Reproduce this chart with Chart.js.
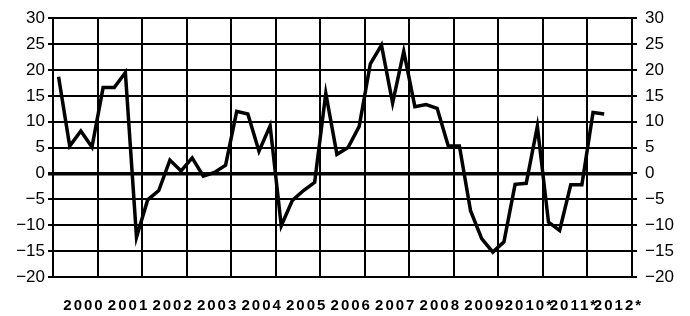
<!DOCTYPE html>
<html>
<head>
<meta charset="utf-8">
<title>Quarterly change, 2000-2012</title>
<script src="https://cdn.jsdelivr.net/npm/chart.js@4/dist/chart.umd.min.js"></script>
<style>
    html, body { margin: 0; padding: 0; background: #fff; }
    #wrap { width: 690px; height: 316px; }
</style>
</head>
<body>
<div id="wrap"><canvas id="growth-chart" width="690" height="316"></canvas></div>
<script>
// Year labels shown under the x axis (one per 4 quarters)
const yearLabels = [
    '2000', '2001', '2002', '2003', '2004', '2005', '2006',
    '2007', '2008', '2009', '2010*', '2011*', '2012*'
];

// Quarterly values, 2000 Q1 .. 2012 Q2
const quarterValues = [
    18.7, 5.3, 8.2, 5.1,        // 2000
    16.6, 16.6, 19.5, -12.3,    // 2001
    -5.1, -3.3, 2.6, 0.5,       // 2002
    3.0, -0.5, 0.2, 1.6,        // 2003
    12.0, 11.5, 4.3, 9.2,       // 2004
    -10.1, -5.2, -3.3, -1.7,    // 2005
    15.5, 3.7, 5.0, 9.1,        // 2006
    21.2, 24.8, 13.6, 23.6,     // 2007
    12.9, 13.3, 12.6, 5.3,      // 2008
    5.3, -7.2, -12.6, -15.2,    // 2009
    -13.2, -2.1, -1.9, 9.1,     // 2010
    -9.4, -11.0, -2.2, -2.2,    // 2011
    11.8, 11.5                  // 2012
];

// Value axis ticks (same on both sides)
const valueTicks = [-20, -15, -10, -5, 0, 5, 10, 15, 20, 25, 30];

const GrowthChart = {
    chart: null,

    /**
     * Quarter index -> point placed in the middle of its quarter
     */
    buildPoints() {
        return quarterValues.map((v, i) => ({ x: i + 0.5, y: v }));
    },

    formatValue(v) {
        return v < 0 ? '\u2212' + Math.abs(v) : String(v);
    },

    render() {
        const ctx = document.getElementById('growth-chart');
        const font = 'Liberation Sans, Arial, sans-serif';
        const step = valueTicks[1] - valueTicks[0];

        // Year labels are printed letter-spaced; they are drawn after the datasets (ticks.z = 1)
        const spacedYears = {
            id: 'spacedYears',
            afterDatasetsDraw(chart) { chart.ctx.letterSpacing = '2px'; },
            afterDraw(chart) { chart.ctx.letterSpacing = '0px'; }
        };

        this.chart = new Chart(ctx, {
            type: 'line',
            data: {
                datasets: [{
                    data: this.buildPoints(),
                    borderColor: '#000',
                    borderWidth: 3.5,
                    pointRadius: 0,
                    tension: 0,
                    fill: false,
                    yAxisID: 'y'
                }]
            },
            options: {
                responsive: false,
                animation: false,
                layout: { padding: { top: 16, left: 0, right: 0, bottom: 0 } },
                plugins: {
                    legend: { display: false },
                    tooltip: { enabled: false }
                },
                scales: {
                    x: {
                        type: 'linear',
                        min: 0,
                        max: yearLabels.length * 4,
                        afterFit: (scale) => { scale.height = 39; },
                        grid: {
                            color: '#000',
                            lineWidth: 2,
                            drawTicks: false
                        },
                        border: { color: '#000', width: 2 },
                        ticks: {
                            stepSize: 4,
                            autoSkip: false,
                            maxRotation: 0,
                            padding: 20,
                            labelOffset: 31,
                            z: 1,
                            color: '#000',
                            font: { family: font, size: 15, weight: 'bold' },
                            callback: (value) => yearLabels[value / 4] || ''
                        }
                    },
                    y: {
                        position: 'left',
                        min: valueTicks[0],
                        max: valueTicks[valueTicks.length - 1],
                        afterFit: (scale) => { scale.width = 53; },
                        grid: {
                            color: '#000',
                            lineWidth: (c) => (c.tick && c.tick.value === 0 ? 3.5 : 2),
                            tickLength: 5
                        },
                        border: { color: '#000', width: 2 },
                        ticks: {
                            stepSize: step,
                            padding: 3,
                            color: '#000',
                            font: { family: font, size: 17 },
                            callback: (v) => this.formatValue(v)
                        }
                    },
                    y2: {
                        position: 'right',
                        min: valueTicks[0],
                        max: valueTicks[valueTicks.length - 1],
                        afterFit: (scale) => { scale.width = 58; },
                        grid: {
                            color: '#000',
                            lineWidth: 2,
                            drawOnChartArea: false,
                            tickLength: 5
                        },
                        border: { color: '#000', width: 2 },
                        ticks: {
                            stepSize: step,
                            padding: 8,
                            color: '#000',
                            font: { family: font, size: 17 },
                            callback: (v) => this.formatValue(v)
                        }
                    }
                }
            },
            plugins: [spacedYears]
        });
    }
};

GrowthChart.render();
</script>
</body>
</html>
